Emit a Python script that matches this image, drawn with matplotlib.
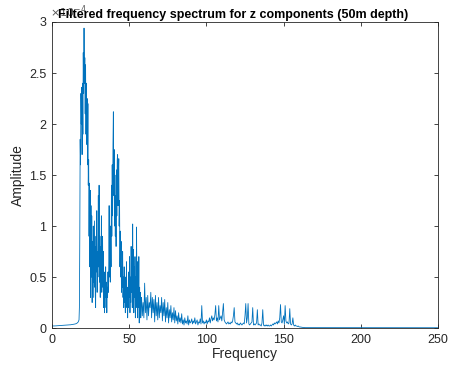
import numpy as np
import matplotlib
matplotlib.use('Agg')
import matplotlib.pyplot as plt

# amplitude values are in units of 1e-4 (shown with the x10^-4 multiplier)

# 0 .. 17 Hz, 1 Hz bins: flat floor before the signal
low_start, low_step = 0.0, 1.0
low_amp = [0.02, 0.02, 0.021, 0.022, 0.022, 0.023, 0.024, 0.025, 0.026,
           0.027, 0.028, 0.03, 0.032, 0.034, 0.037, 0.04, 0.045, 0.06]

# 17.5 .. ~58 Hz, 0.25 Hz bins: the two main bursts
main_start, main_step = 17.5, 0.25
main_amp = [0.08, 0.2, 0.9, 1.85, 1.6, 2.3, 2.0, 2.36, 1.7, 2.4,
            1.9, 2.7, 2.3, 2.94, 2.4, 2.65, 2.1, 2.58, 1.9, 2.4,
            1.8, 2.25, 1.6, 2.2, 1.4, 1.65, 0.9, 1.42, 0.6, 1.35,
            0.3, 1.2, 0.5, 1.1, 0.25, 0.85, 0.45, 1.0, 0.3, 0.7,
            1.05, 0.4, 0.8, 0.2, 0.9, 0.55, 1.15, 0.35, 0.75, 0.5,
            1.3, 0.6, 1.4, 0.45, 0.9, 0.3, 0.8, 0.5, 1.1, 0.35,
            0.7, 0.9, 0.4, 0.75, 0.2, 0.55, 0.15, 0.5, 0.3, 0.6,
            0.2, 0.45, 0.15, 0.4, 0.3, 0.55, 0.35, 0.6, 1.2, 0.5,
            0.8, 0.45, 1.0, 0.6, 1.4, 0.9, 1.6, 1.1, 1.8, 2.12,
            1.3, 1.75, 1.0, 1.5, 0.9, 1.3, 0.8, 1.55, 1.1, 1.65,
            1.7, 1.2, 1.5, 1.66, 1.0, 1.25, 0.6, 0.95, 0.5, 0.85,
            0.35, 0.6, 0.4, 0.75, 0.3, 0.5, 0.2, 0.6, 0.25, 0.45,
            0.15, 0.5, 0.3, 0.65, 0.2, 0.4, 0.1, 0.35, 0.2, 0.55,
            0.3, 0.7, 0.15, 0.5, 0.25, 0.8, 0.35, 0.6, 0.2, 1.02,
            0.4, 0.77, 0.15, 0.6, 0.3, 0.7, 0.1, 0.5, 0.2, 0.99,
            0.35, 0.65, 0.1, 0.5, 0.2, 0.7, 0.05, 0.4, 0.15, 0.35,
            0.1, 0.25]

# 58 .. 164.5 Hz, 0.5 Hz bins: decaying tail with isolated spikes
tail_start, tail_step = 58.0, 0.5
tail_amp = [0.3, 0.12, 0.25, 0.1, 0.44, 0.15, 0.3, 0.08, 0.32, 0.12,
            0.25, 0.2, 0.35, 0.1, 0.3, 0.15, 0.28, 0.06, 0.32, 0.12,
            0.25, 0.08, 0.3, 0.1, 0.22, 0.15, 0.3, 0.07, 0.25, 0.12,
            0.28, 0.06, 0.2, 0.1, 0.25, 0.05, 0.18, 0.1, 0.22, 0.06,
            0.15, 0.08, 0.2, 0.05, 0.17, 0.07, 0.12, 0.04, 0.15, 0.06,
            0.1, 0.05, 0.14, 0.04, 0.08, 0.03, 0.1, 0.05, 0.07, 0.04,
            0.12, 0.03, 0.08, 0.05, 0.06, 0.09, 0.04, 0.07, 0.05, 0.1,
            0.04, 0.06, 0.08, 0.03, 0.06, 0.05, 0.09, 0.04, 0.22, 0.05,
            0.07, 0.04, 0.06, 0.05, 0.08, 0.04, 0.07, 0.06, 0.1, 0.05,
            0.09, 0.12, 0.07, 0.1, 0.08, 0.13, 0.22, 0.07, 0.1, 0.06,
            0.22, 0.08, 0.1, 0.12, 0.07, 0.15, 0.24, 0.08, 0.06, 0.05,
            0.04, 0.05, 0.06, 0.04, 0.05, 0.04, 0.06, 0.05, 0.07, 0.12,
            0.2, 0.06, 0.05, 0.04, 0.05, 0.03, 0.04, 0.03, 0.05, 0.04,
            0.03, 0.04, 0.05, 0.04, 0.12, 0.24, 0.05, 0.1, 0.24, 0.04,
            0.03, 0.04, 0.05, 0.06, 0.2, 0.03, 0.04, 0.03, 0.04, 0.05,
            0.18, 0.03, 0.04, 0.03, 0.03, 0.02, 0.05, 0.18, 0.03, 0.02,
            0.03, 0.02, 0.03, 0.02, 0.03, 0.02, 0.02, 0.03, 0.02, 0.03,
            0.04, 0.03, 0.05, 0.04, 0.05, 0.06, 0.04, 0.07, 0.05, 0.1,
            0.23, 0.06, 0.05, 0.08, 0.12, 0.04, 0.22, 0.07, 0.05, 0.06,
            0.04, 0.05, 0.19, 0.04, 0.03, 0.04, 0.1, 0.03, 0.02, 0.03,
            0.02, 0.02, 0.015, 0.02, 0.012, 0.01, 0.01, 0.008, 0.007, 0.006,
            0.005, 0.005, 0.004, 0.004]

# 166 .. 250 Hz, 4 Hz bins: nearly zero
high_start, high_step = 166.0, 4.0
high_amp = [0.004, 0.004, 0.0035, 0.0035, 0.0035, 0.003, 0.003, 0.003,
            0.003, 0.003, 0.003, 0.003, 0.003, 0.003, 0.003, 0.003,
            0.003, 0.003, 0.003, 0.003, 0.003, 0.003]

segments = [(low_start, low_step, low_amp), (main_start, main_step, main_amp),
            (tail_start, tail_step, tail_amp), (high_start, high_step, high_amp)]
freq = np.concatenate([s + d * np.arange(len(a)) for s, d, a in segments])
amp = np.concatenate([a for _, _, a in segments])

plt.rcParams['font.family'] = ['Liberation Sans', 'DejaVu Sans']

fig = plt.figure(figsize=(4.49, 3.69), dpi=100)
ax = fig.add_axes([0.1158, 0.111, 0.8597, 0.8294])

ax.plot(freq, amp, color='#0072BD', linewidth=0.6)

ax.set_xlim(0, 250)
ax.set_ylim(0, 3)
ax.set_xticks([0, 50, 100, 150, 200, 250])
ax.set_yticks([0, 0.5, 1, 1.5, 2, 2.5, 3])
ax.set_yticklabels(['0', '0.5', '1', '1.5', '2', '2.5', '3'])

axis_gray = '#262626'
for sp in ax.spines.values():
    sp.set_color(axis_gray)
    sp.set_linewidth(0.6)
ax.tick_params(direction='in', length=3, width=0.6, colors=axis_gray,
               labelsize=9, top=True, right=True, pad=4)

ax.set_xlabel('Frequency', fontsize=10, color=axis_gray, labelpad=1)
ax.set_ylabel('Amplitude', fontsize=10, color=axis_gray, labelpad=3)

# MATLAB-style exponent label, partly hidden under the title as in the original
ax.text(-0.005, 1.005, r'$\times 10^{-4}$', transform=ax.transAxes,
        fontsize=8, color='#555555', ha='left', va='bottom')
ax.set_title('Filtered frequency spectrum for z components (50m depth)',
             fontsize=9, fontweight='bold', color='black', pad=3, x=0.47)

fig.savefig('out.png', dpi=100)
